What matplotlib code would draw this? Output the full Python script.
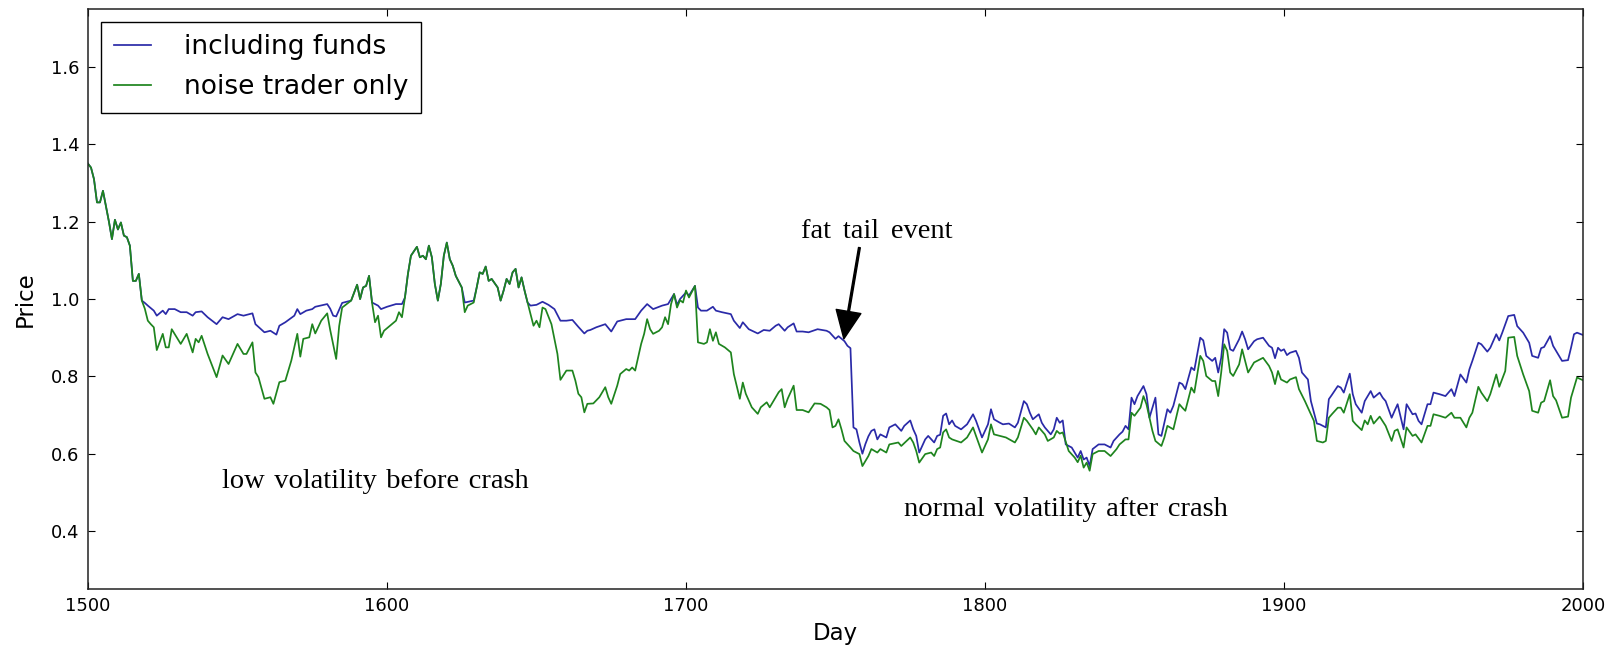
import matplotlib
matplotlib.use("Agg")
import matplotlib.pyplot as plt

# ---------------- data ----------------
funds_day = [1500, 1501, 1502, 1503, 1504, 1505, 1506, 1507, 1508, 1509, 1510, 1511, 1512, 1513, 1514, 1515, 1516, 1517, 1518,
             1519, 1520, 1522, 1523, 1525, 1526, 1527, 1529, 1531, 1533, 1535, 1536, 1538, 1540, 1543, 1545, 1547, 1550,
             1552, 1555, 1556, 1559, 1561, 1563, 1564, 1566, 1569, 1570, 1571, 1573, 1575, 1576, 1580, 1581, 1582, 1583,
             1585, 1588, 1590, 1591, 1592, 1593, 1594, 1595, 1597, 1598, 1600, 1603, 1605, 1606, 1607, 1608, 1610, 1611,
             1612, 1613, 1614, 1615, 1616, 1617, 1618, 1619, 1620, 1621, 1622, 1623, 1625, 1626, 1629, 1630, 1631, 1632,
             1633, 1634, 1635, 1637, 1638, 1639, 1640, 1641, 1642, 1643, 1644, 1645, 1646, 1647, 1648, 1650, 1652, 1654,
             1656, 1658, 1660, 1662, 1664, 1666, 1667, 1668, 1670, 1673, 1675, 1677, 1680, 1683, 1685, 1687, 1689, 1692,
             1694, 1696, 1697, 1698, 1700, 1701, 1703, 1704, 1705, 1707, 1709, 1710, 1712, 1715, 1716, 1718, 1719, 1721,
             1724, 1726, 1728, 1730, 1731, 1733, 1734, 1736, 1737, 1739, 1741, 1744, 1747, 1748, 1750, 1751, 1753, 1754,
             1755, 1756, 1757, 1758, 1759, 1760, 1761, 1762, 1763, 1764, 1765, 1767, 1768, 1770, 1772, 1773, 1775, 1776,
             1777, 1778, 1780, 1781, 1783, 1784, 1785, 1786, 1787, 1788, 1789, 1790, 1792, 1794, 1796, 1797, 1799, 1801,
             1802, 1803, 1805, 1806, 1808, 1810, 1811, 1813, 1814, 1815, 1816, 1818, 1819, 1820, 1822, 1823, 1824, 1825,
             1826, 1827, 1829, 1831, 1832, 1833, 1834, 1835, 1836, 1838, 1840, 1842, 1843, 1845, 1846, 1847, 1848, 1849,
             1850, 1851, 1853, 1854, 1855, 1857, 1858, 1859, 1861, 1862, 1863, 1865, 1866, 1867, 1869, 1870, 1872, 1873,
             1874, 1876, 1877, 1878, 1879, 1880, 1881, 1882, 1883, 1885, 1886, 1887, 1888, 1890, 1891, 1893, 1895, 1896,
             1897, 1898, 1899, 1900, 1901, 1902, 1904, 1905, 1906, 1908, 1909, 1911, 1912, 1914, 1915, 1916, 1918, 1919,
             1920, 1922, 1923, 1924, 1926, 1927, 1929, 1930, 1932, 1933, 1934, 1936, 1937, 1938, 1940, 1941, 1943, 1944,
             1945, 1946, 1948, 1949, 1950, 1952, 1954, 1956, 1957, 1959, 1961, 1962, 1963, 1965, 1966, 1968, 1969, 1971,
             1972, 1973, 1975, 1977, 1978, 1980, 1982, 1983, 1985, 1986, 1987, 1989, 1990, 1991, 1993, 1995, 1996, 1997,
             1998, 2000]
funds_price = [1.35, 1.34, 1.31, 1.25, 1.25, 1.28, 1.24, 1.20, 1.155, 1.205, 1.18, 1.198, 1.164, 1.16, 1.138, 1.047, 1.047, 1.065, 0.996,
               0.99, 0.983, 0.97, 0.957, 0.97, 0.961, 0.974, 0.974, 0.966, 0.966, 0.957, 0.966, 0.968, 0.953, 0.935, 0.953, 0.948, 0.961,
               0.957, 0.963, 0.935, 0.914, 0.918, 0.908, 0.931, 0.94, 0.957, 0.974, 0.961, 0.97, 0.974, 0.98, 0.987, 0.975, 0.957, 0.955,
               0.99, 0.996, 1.037, 1.0, 1.03, 1.034, 1.06, 0.991, 0.983, 0.974, 0.98, 0.987, 0.987, 1.004, 1.065, 1.112, 1.135, 1.108,
               1.112, 1.103, 1.138, 1.108, 1.039, 0.996, 1.039, 1.112, 1.146, 1.103, 1.086, 1.06, 1.03, 0.991, 0.996, 1.03, 1.069, 1.065,
               1.084, 1.047, 1.052, 1.03, 0.996, 1.022, 1.052, 1.039, 1.069, 1.078, 1.03, 1.056, 1.022, 0.991, 0.983, 0.985, 0.993, 0.985,
               0.974, 0.944, 0.944, 0.946, 0.928, 0.911, 0.918, 0.92, 0.927, 0.935, 0.916, 0.942, 0.948, 0.948, 0.97, 0.987, 0.974, 0.983,
               0.987, 1.013, 0.985, 1.0, 1.017, 1.009, 1.034, 0.978, 0.97, 0.97, 0.98, 0.97, 0.966, 0.961, 0.944, 0.925, 0.94, 0.922,
               0.911, 0.92, 0.918, 0.931, 0.935, 0.918, 0.927, 0.937, 0.916, 0.916, 0.914, 0.922, 0.918, 0.914, 0.897, 0.904, 0.891, 0.879,
               0.873, 0.668, 0.663, 0.629, 0.60, 0.625, 0.645, 0.659, 0.663, 0.637, 0.65, 0.642, 0.668, 0.676, 0.659, 0.672, 0.686, 0.663,
               0.646, 0.603, 0.637, 0.646, 0.629, 0.646, 0.649, 0.698, 0.704, 0.676, 0.686, 0.672, 0.663, 0.676, 0.702, 0.685, 0.642, 0.676,
               0.715, 0.689, 0.68, 0.676, 0.678, 0.668, 0.68, 0.736, 0.728, 0.706, 0.689, 0.702, 0.68, 0.668, 0.65, 0.663, 0.693, 0.68,
               0.686, 0.624, 0.616, 0.59, 0.607, 0.585, 0.59, 0.568, 0.612, 0.624, 0.624, 0.616, 0.633, 0.65, 0.657, 0.672, 0.663, 0.745,
               0.728, 0.749, 0.775, 0.754, 0.693, 0.745, 0.65, 0.646, 0.715, 0.706, 0.724, 0.784, 0.78, 0.767, 0.823, 0.816, 0.90, 0.893,
               0.853, 0.84, 0.848, 0.81, 0.848, 0.922, 0.913, 0.87, 0.866, 0.896, 0.916, 0.896, 0.87, 0.891, 0.896, 0.90, 0.879, 0.874,
               0.847, 0.874, 0.866, 0.87, 0.855, 0.861, 0.866, 0.848, 0.81, 0.792, 0.736, 0.678, 0.676, 0.668, 0.741, 0.752, 0.775, 0.771,
               0.758, 0.807, 0.754, 0.728, 0.706, 0.736, 0.762, 0.745, 0.758, 0.745, 0.736, 0.693, 0.711, 0.728, 0.663, 0.728, 0.702, 0.704,
               0.685, 0.676, 0.728, 0.728, 0.758, 0.754, 0.749, 0.767, 0.749, 0.805, 0.784, 0.818, 0.84, 0.887, 0.883, 0.864, 0.874, 0.909,
               0.893, 0.913, 0.956, 0.959, 0.93, 0.913, 0.887, 0.853, 0.848, 0.873, 0.876, 0.904, 0.879, 0.866, 0.84, 0.842, 0.874, 0.909,
               0.913, 0.907]

noise_day = [1500, 1501, 1502, 1503, 1504, 1505, 1506, 1507, 1508, 1509, 1510, 1511, 1512, 1513, 1514, 1515, 1516, 1517, 1518,
             1519, 1520, 1521, 1522, 1523, 1525, 1526, 1527, 1528, 1531, 1533, 1535, 1536, 1537, 1538, 1540, 1543, 1545, 1547,
             1550, 1552, 1553, 1555, 1556, 1557, 1559, 1561, 1562, 1564, 1566, 1568, 1570, 1571, 1572, 1574, 1575, 1576, 1578,
             1580, 1581, 1583, 1584, 1585, 1588, 1590, 1591, 1592, 1593, 1594, 1595, 1596, 1597, 1598, 1599, 1601, 1603, 1604,
             1605, 1606, 1607, 1608, 1610, 1611, 1612, 1613, 1614, 1615, 1616, 1617, 1618, 1619, 1620, 1621, 1622, 1623, 1625,
             1626, 1627, 1629, 1630, 1631, 1632, 1633, 1634, 1635, 1637, 1638, 1639, 1640, 1641, 1642, 1643, 1644, 1645, 1646,
             1647, 1648, 1649, 1650, 1651, 1652, 1653, 1655, 1657, 1658, 1660, 1662, 1663, 1664, 1665, 1666, 1667, 1669, 1671,
             1673, 1674, 1675, 1677, 1678, 1680, 1681, 1682, 1683, 1685, 1686, 1687, 1688, 1689, 1691, 1692, 1693, 1694, 1695,
             1696, 1697, 1698, 1699, 1700, 1701, 1703, 1704, 1706, 1707, 1708, 1709, 1710, 1711, 1713, 1715, 1716, 1718, 1719,
             1720, 1722, 1724, 1725, 1727, 1728, 1730, 1731, 1732, 1733, 1734, 1736, 1737, 1739, 1741, 1743, 1745, 1747, 1748,
             1749, 1750, 1751, 1752, 1753, 1755, 1756, 1758, 1759, 1761, 1762, 1764, 1765, 1767, 1768, 1771, 1772, 1775, 1776,
             1777, 1778, 1780, 1782, 1783, 1784, 1785, 1786, 1787, 1788, 1789, 1792, 1794, 1796, 1797, 1799, 1801, 1802, 1803,
             1805, 1807, 1810, 1811, 1813, 1814, 1816, 1817, 1818, 1820, 1821, 1823, 1824, 1825, 1826, 1828, 1830, 1831, 1832,
             1833, 1834, 1835, 1836, 1838, 1840, 1842, 1844, 1845, 1847, 1848, 1849, 1850, 1852, 1853, 1854, 1856, 1857, 1859,
             1860, 1861, 1863, 1865, 1866, 1867, 1869, 1870, 1872, 1873, 1874, 1876, 1877, 1878, 1879, 1880, 1881, 1882, 1883,
             1885, 1886, 1887, 1888, 1890, 1891, 1893, 1895, 1896, 1897, 1898, 1899, 1901, 1902, 1904, 1905, 1907, 1908, 1910,
             1911, 1913, 1914, 1915, 1916, 1918, 1919, 1920, 1922, 1923, 1924, 1926, 1927, 1928, 1929, 1930, 1932, 1934, 1936,
             1937, 1938, 1940, 1941, 1943, 1944, 1946, 1948, 1949, 1950, 1952, 1954, 1956, 1957, 1959, 1961, 1962, 1963, 1965,
             1966, 1968, 1969, 1971, 1972, 1974, 1975, 1977, 1978, 1980, 1982, 1983, 1985, 1986, 1987, 1989, 1990, 1991, 1993,
             1995, 1996, 1998, 2000]
noise_price = [1.35, 1.34, 1.31, 1.25, 1.25, 1.28, 1.24, 1.20, 1.155, 1.205, 1.18, 1.198, 1.164, 1.16, 1.138, 1.047, 1.047, 1.065, 0.996,
               0.975, 0.944, 0.935, 0.927, 0.868, 0.91, 0.875, 0.875, 0.922, 0.884, 0.91, 0.862, 0.897, 0.888, 0.905, 0.858, 0.798, 0.854, 0.832,
               0.884, 0.858, 0.858, 0.888, 0.81, 0.798, 0.742, 0.746, 0.729, 0.785, 0.789, 0.841, 0.91, 0.851, 0.897, 0.901, 0.935, 0.911, 0.944,
               0.963, 0.92, 0.845, 0.93, 0.978, 0.996, 1.037, 1.0, 1.03, 1.034, 1.06, 0.99, 0.94, 0.957, 0.901, 0.918, 0.931, 0.944, 0.966,
               0.953, 1.004, 1.065, 1.112, 1.135, 1.108, 1.112, 1.103, 1.138, 1.108, 1.039, 0.996, 1.039, 1.112, 1.146, 1.103, 1.086, 1.06, 1.03,
               0.966, 0.983, 0.991, 1.03, 1.069, 1.065, 1.084, 1.047, 1.052, 1.03, 0.996, 1.022, 1.052, 1.039, 1.069, 1.078, 1.03, 1.056, 1.022,
               0.991, 0.961, 0.931, 0.944, 0.927, 0.978, 0.974, 0.935, 0.858, 0.791, 0.815, 0.815, 0.789, 0.755, 0.746, 0.707, 0.729, 0.73, 0.746,
               0.772, 0.746, 0.729, 0.776, 0.806, 0.819, 0.815, 0.823, 0.815, 0.884, 0.91, 0.948, 0.922, 0.91, 0.918, 0.927, 0.953, 0.935, 0.987,
               1.013, 0.978, 0.997, 0.991, 1.022, 1.004, 1.034, 0.888, 0.884, 0.888, 0.922, 0.892, 0.914, 0.884, 0.875, 0.862, 0.806, 0.742, 0.784,
               0.755, 0.72, 0.703, 0.72, 0.733, 0.72, 0.746, 0.759, 0.767, 0.72, 0.742, 0.776, 0.713, 0.713, 0.707, 0.73, 0.729, 0.72, 0.713,
               0.668, 0.672, 0.689, 0.663, 0.633, 0.616, 0.607, 0.599, 0.568, 0.594, 0.612, 0.603, 0.612, 0.603, 0.624, 0.629, 0.62, 0.642, 0.629,
               0.607, 0.577, 0.599, 0.603, 0.594, 0.612, 0.616, 0.655, 0.663, 0.642, 0.637, 0.629, 0.642, 0.668, 0.646, 0.603, 0.637, 0.676, 0.65,
               0.646, 0.642, 0.629, 0.642, 0.693, 0.685, 0.663, 0.65, 0.668, 0.65, 0.633, 0.642, 0.659, 0.652, 0.655, 0.607, 0.59, 0.578, 0.595,
               0.564, 0.577, 0.556, 0.599, 0.607, 0.607, 0.594, 0.612, 0.624, 0.637, 0.637, 0.706, 0.698, 0.719, 0.749, 0.728, 0.659, 0.633, 0.62,
               0.642, 0.672, 0.663, 0.728, 0.719, 0.711, 0.771, 0.758, 0.853, 0.84, 0.801, 0.788, 0.788, 0.749, 0.81, 0.883, 0.866, 0.81, 0.801,
               0.831, 0.87, 0.84, 0.81, 0.836, 0.84, 0.848, 0.827, 0.81, 0.78, 0.814, 0.792, 0.784, 0.792, 0.798, 0.767, 0.736, 0.719, 0.685,
               0.633, 0.629, 0.633, 0.693, 0.702, 0.719, 0.719, 0.706, 0.754, 0.685, 0.676, 0.661, 0.686, 0.676, 0.698, 0.678, 0.696, 0.672, 0.633,
               0.659, 0.663, 0.616, 0.668, 0.646, 0.65, 0.629, 0.672, 0.672, 0.702, 0.698, 0.693, 0.706, 0.693, 0.693, 0.668, 0.693, 0.706, 0.773,
               0.758, 0.736, 0.754, 0.805, 0.773, 0.814, 0.90, 0.902, 0.853, 0.805, 0.762, 0.711, 0.706, 0.732, 0.736, 0.79, 0.749, 0.738, 0.693,
               0.696, 0.745, 0.797, 0.79]

series_labels = ["including funds", "noise trader only"]
x_ticks = [1500, 1600, 1700, 1800, 1900, 2000]
y_ticks = [0.4, 0.6, 0.8, 1.0, 1.2, 1.4, 1.6]
annotations = ["fat tail event", "low volatility before crash", "normal volatility after crash"]

# ---------------- figure ----------------
fig = plt.figure(figsize=(16.12, 6.47), dpi=100, facecolor="white")
ax = fig.add_axes([0.0546, 0.0896, 0.9274, 0.8964])

blue = "#2a2aa8"
green = "#1e841e"
ax.plot(funds_day, funds_price, color=blue, lw=1.25, label=series_labels[0])
ax.plot(noise_day, noise_price, color=green, lw=1.25, label=series_labels[1])

ax.set_xlim(1500, 2000)
ax.set_ylim(0.25, 1.75)
ax.set_xticks(x_ticks)
ax.set_yticks(y_ticks)
ax.set_xticklabels([str(t) for t in x_ticks])
ax.set_yticklabels(["%.1f" % t for t in y_ticks])
ax.tick_params(direction="in", length=5, width=0.8, top=True, right=True,
               labelsize=13, pad=6, colors="black")
for s in ax.spines.values():
    s.set_linewidth(1.1)
    s.set_color("#222222")

ax.set_xlabel("Day", fontsize=16.5, labelpad=5)
ax.set_ylabel("Price", fontsize=16.5, labelpad=10)

leg = ax.legend(loc="upper left", bbox_to_anchor=(0.0087, 0.978), borderaxespad=0,
                fontsize=19, frameon=True, fancybox=False, framealpha=1,
                edgecolor="black", handlelength=1.4, handletextpad=1.25,
                borderpad=0.48, labelspacing=0.52)
leg.get_frame().set_linewidth(1.0)

serif = ["Liberation Serif", "DejaVu Serif"]
sp = "\u2004"
ax.text(1738.5, 1.158, annotations[0].replace(" ", sp + "\u200a"), family=serif, fontsize=20.5,
        ha="left", va="baseline")
ax.text(1544.8, 0.512, annotations[1].replace(" ", sp), family=serif, fontsize=20.5,
        ha="left", va="baseline")
ax.text(1772.9, 0.439, annotations[2].replace(" ", sp), family=serif, fontsize=20.5,
        ha="left", va="baseline")
ax.annotate("", xy=(1752.8, 0.897), xytext=(1758.0, 1.133),
            arrowprops=dict(facecolor="black", edgecolor="black", width=1.3,
                            headwidth=18, headlength=20, shrink=0.0))

fig.savefig("out.png", dpi=100, facecolor="white")
